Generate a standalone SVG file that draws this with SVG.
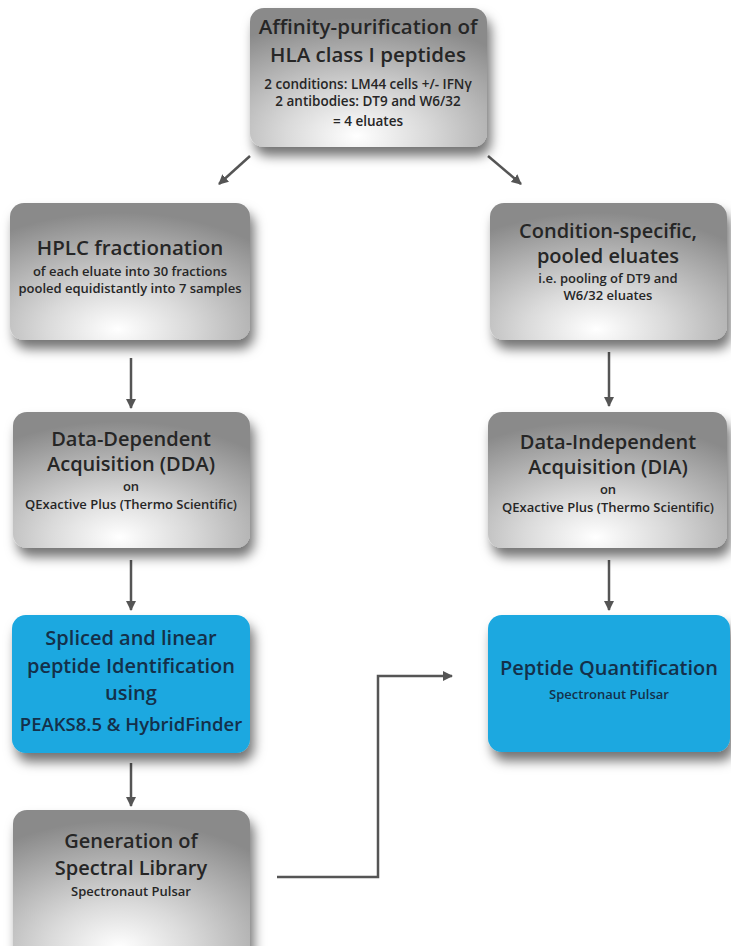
<svg xmlns="http://www.w3.org/2000/svg" width="731" height="946" viewBox="0 0 731 946">
<defs>
  <radialGradient id="gray" cx="0.45" cy="0.92" r="0.85" fx="0.45" fy="0.92">
    <stop offset="0" stop-color="#ffffff"/>
    <stop offset="0.35" stop-color="#dadada"/>
    <stop offset="0.75" stop-color="#a9a9a9"/>
    <stop offset="1" stop-color="#8a8a8a"/>
  </radialGradient>
  <filter id="shadow" x="-20%" y="-20%" width="150%" height="160%">
    <feDropShadow dx="4" dy="9" stdDeviation="6" flood-color="#000" flood-opacity="0.55"/>
  </filter>
  <marker id="arrow" viewBox="0 0 10 10" refX="9" refY="5" markerWidth="4" markerHeight="4" orient="auto" markerUnits="strokeWidth">
    <path d="M0,0 L10,5 L0,10 Z" fill="#555"/>
  </marker>
  <style>
    .g { fill: url(#gray); filter: url(#shadow); }
    .b { fill: #1aa8e0; filter: url(#shadow); }
    text { font-family: "Open Sans", "Liberation Sans", sans-serif; text-anchor: middle; fill: #262626; font-weight: 600; }
    .blue text { fill: #14304a; }
    .t { font-size: 20px; }
    .s { font-size: 13px; }
    .xs { font-size: 13px; }
    .c { fill: none; stroke: #555; stroke-width: 2.5; }
  </style>
</defs>
<rect width="731" height="946" fill="#ffffff"/>

<g id="connectors">
  <line class="c" x1="250" y1="156" x2="219" y2="184" marker-end="url(#arrow)"/>
  <line class="c" x1="488" y1="156" x2="521" y2="184" marker-end="url(#arrow)"/>
  <line class="c" x1="131" y1="358" x2="131" y2="408" marker-end="url(#arrow)"/>
  <line class="c" x1="609" y1="352" x2="609" y2="406" marker-end="url(#arrow)"/>
  <line class="c" x1="131" y1="560" x2="131" y2="610" marker-end="url(#arrow)"/>
  <line class="c" x1="609" y1="560" x2="609" y2="610" marker-end="url(#arrow)"/>
  <line class="c" x1="131" y1="763" x2="131" y2="806" marker-end="url(#arrow)"/>
  <polyline class="c" points="277,877 378,877 378,676 452,676" marker-end="url(#arrow)"/>
</g>

<g id="affinity">
  <rect class="g" x="250" y="8" width="237" height="139" rx="14"/>
  <text class="t" x="368" y="34" style="font-size:20.5px">Affinity-purification of</text>
  <text class="t" x="368" y="62" style="font-size:20.5px">HLA class I peptides</text>
  <text class="s" x="368" y="89" style="font-size:13.5px">2 conditions: LM44 cells +/- IFNγ</text>
  <text class="s" x="368" y="106" style="font-size:13.5px">2 antibodies: DT9 and W6/32</text>
  <text class="s" x="368" y="126" style="font-size:13.5px">= 4 eluates</text>
</g>

<g id="hplc">
  <rect class="g" x="10" y="203" width="240" height="137" rx="14"/>
  <text class="t" x="130" y="255" style="font-size:20.5px">HPLC fractionation</text>
  <text class="s" x="130" y="276">of each eluate into 30 fractions</text>
  <text class="s" x="130" y="293">pooled equidistantly into 7 samples</text>
</g>

<g id="condition">
  <rect class="g" x="490" y="203" width="237" height="137" rx="14"/>
  <text class="t" x="608" y="238">Condition-specific,</text>
  <text class="t" x="608" y="263">pooled eluates</text>
  <text class="s" x="608" y="283">i.e. pooling of DT9 and</text>
  <text class="s" x="608" y="300">W6/32 eluates</text>
</g>

<g id="dda">
  <rect class="g" x="13" y="412" width="237" height="136" rx="14"/>
  <text class="t" x="131" y="446">Data-Dependent</text>
  <text class="t" x="131" y="471">Acquisition (DDA)</text>
  <text class="s" x="131" y="491">on</text>
  <text class="s" x="131" y="509">QExactive Plus (Thermo Scientific)</text>
</g>

<g id="dia">
  <rect class="g" x="488" y="412" width="239" height="136" rx="14"/>
  <text class="t" x="608" y="449">Data-Independent</text>
  <text class="t" x="608" y="474">Acquisition (DIA)</text>
  <text class="s" x="608" y="494">on</text>
  <text class="s" x="608" y="512">QExactive Plus (Thermo Scientific)</text>
</g>

<g id="spliced" class="blue">
  <rect class="b" x="12" y="615" width="238" height="138" rx="14"/>
  <text class="t" x="131" y="645">Spliced and linear</text>
  <text class="t" x="131" y="673">peptide Identification</text>
  <text class="t" x="131" y="700">using</text>
  <text class="t" x="131" y="731" style="font-size:18.5px">PEAKS8.5 &amp; HybridFinder</text>
</g>

<g id="quant" class="blue">
  <rect class="b" x="488" y="615" width="242" height="137" rx="14"/>
  <text class="t" x="609" y="675">Peptide Quantification</text>
  <text class="xs" x="609" y="699">Spectronaut Pulsar</text>
</g>

<g id="library">
  <rect class="g" x="13" y="810" width="237" height="150" rx="14"/>
  <text class="t" x="131" y="848">Generation of</text>
  <text class="t" x="131" y="875">Spectral Library</text>
  <text class="xs" x="131" y="896">Spectronaut Pulsar</text>
</g>
</svg>
